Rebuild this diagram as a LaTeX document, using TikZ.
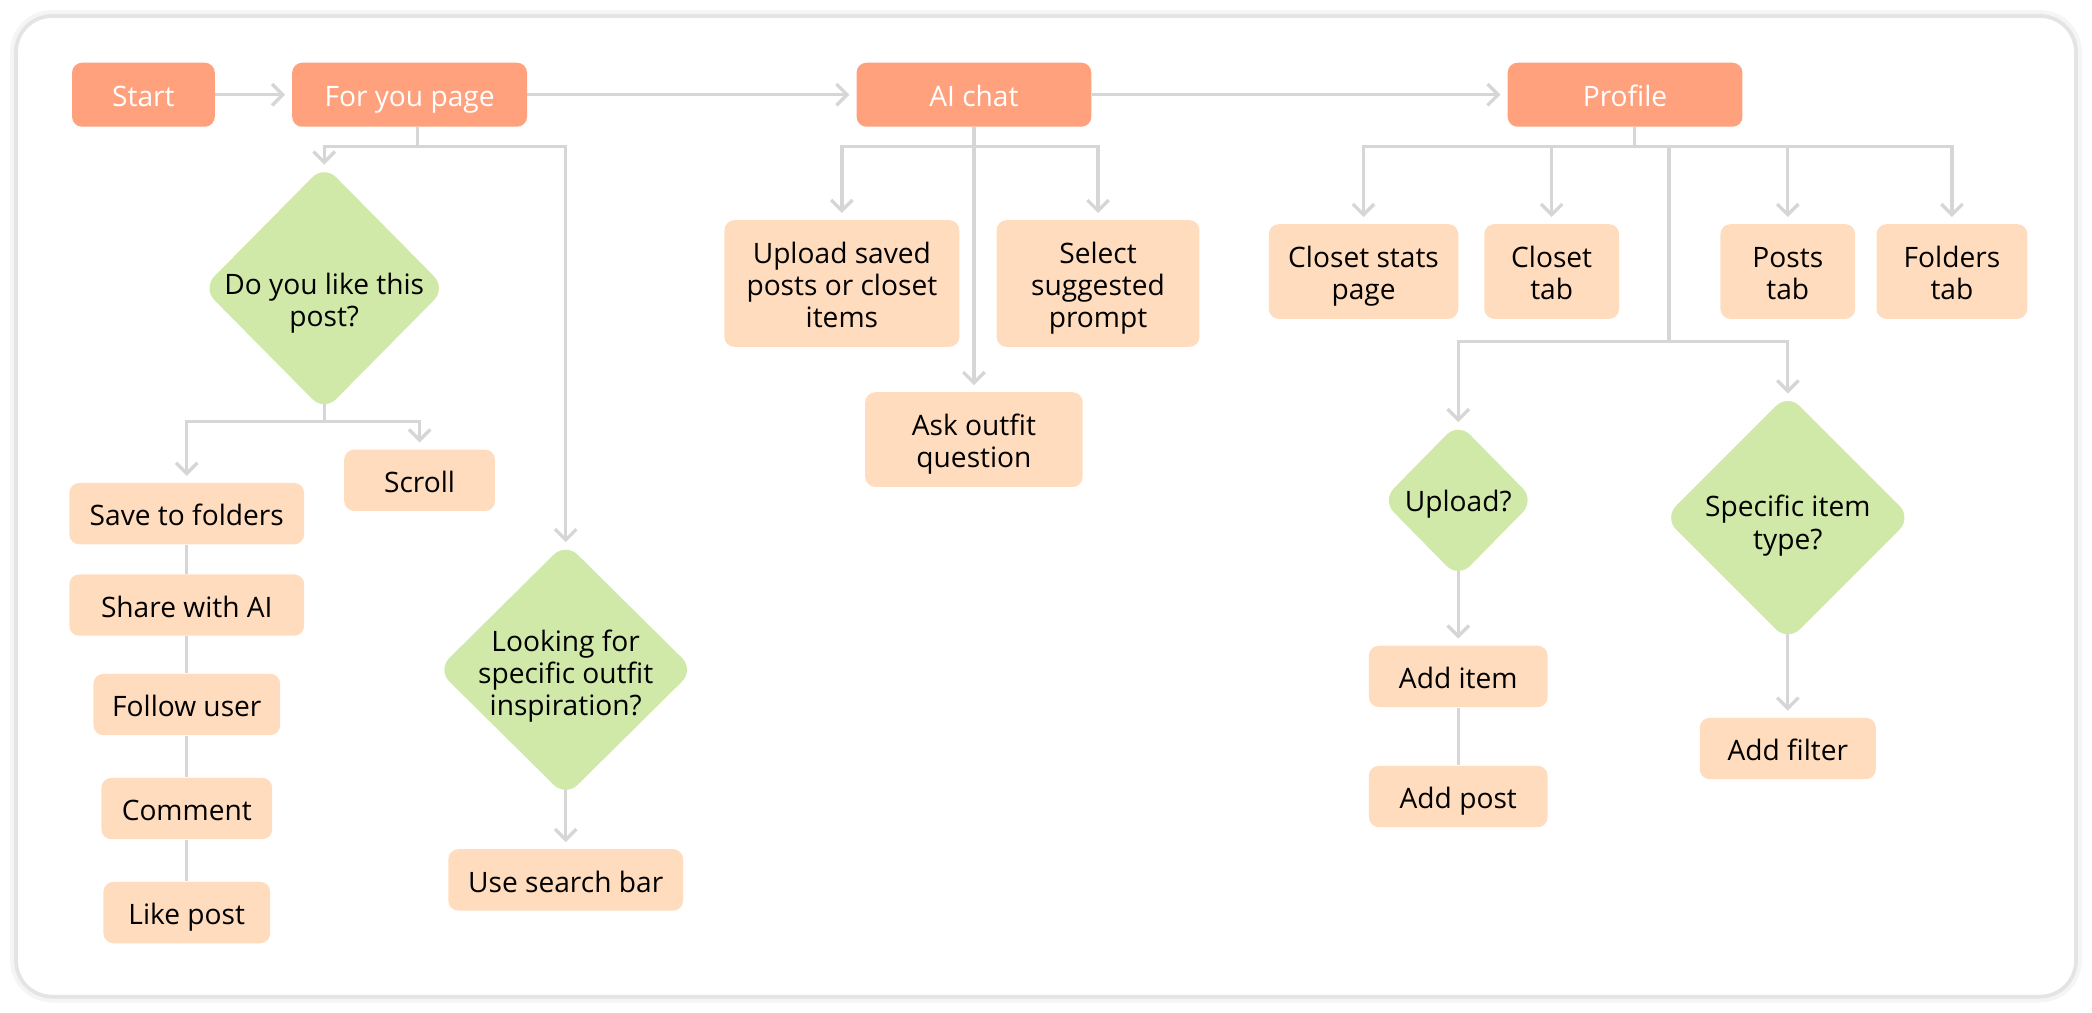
\documentclass[tikz,border=0pt]{standalone}
\usepackage{fontspec}
\setmainfont{Open Sans}
\usetikzlibrary{arrows.meta,shapes.geometric,calc}
\definecolor{salmon}{HTML}{FFA17D}
\definecolor{peach}{HTML}{FFDCBD}
\definecolor{leaf}{HTML}{D0E9A9}
\definecolor{wire}{HTML}{D6D6D6}
\definecolor{rim}{HTML}{E4E4E4}
\begin{document}
\begin{tikzpicture}[x=0.2mm,y=-0.2mm,every node/.style={font=\fontsize{12}{13.7}\selectfont},
 b/.style={fill=peach,rounded corners=1.5mm,minimum height=9.2mm,inner sep=0pt,align=center,text height=11.8pt,text depth=1.4pt},
 two/.style={minimum height=14.2mm,text height=25.5pt},
 three/.style={minimum height=19mm,text height=39.2pt},
 hdr/.style={b,fill=salmon,text=white,minimum width=35.2mm,minimum height=9.6mm},
 q/.style={diamond,fill=leaf,rounded corners=2.5mm,inner sep=0pt},
 ln/.style={draw=wire,line width=1.4pt},
 arr/.style={ln,-{Straight Barb[length=1.6mm,width=3.2mm]},shorten >=1mm}]
\useasboundingbox (0,0) rectangle (1568,759);
\draw[black!4,line width=5pt,rounded corners=5.4mm] (12,12) rectangle (1556,747);
\draw[rim,line width=1.6pt,fill=white,rounded corners=5.4mm] (12,12) rectangle (1556,747);
% top row
\node[hdr,minimum width=21.4mm] (start) at (107.5,71) {Start};
\node[hdr] (fyp) at (307,71) {For you page};
\node[hdr] (ai) at (730,71) {AI chat};
\node[hdr] (prof) at (1218,71) {Profile};
% for you page
\node[q,minimum width=36.5mm,minimum height=36.9mm,label={[align=center,yshift=-2.2mm]center:Do you like this\\post?}] (like) at (243,216) {};
\node[b,minimum width=22.6mm] (scroll) at (314.5,360) {Scroll};
\node[b,minimum width=35.2mm] (save) at (140,385) {Save to folders};
\node[b,minimum width=35.2mm] (share) at (140,453.5) {Share with AI};
\node[b,minimum width=28mm] (follow) at (140,528) {Follow user};
\node[b,minimum width=25.6mm] (comment) at (140,606) {Comment};
\node[b,minimum width=25mm] (likep) at (140,684) {Like post};
\node[q,minimum width=38.5mm,minimum height=38.1mm,label={[align=center,yshift=-1mm]center:Looking for\\specific outfit\\inspiration?}] (look) at (424,502) {};
\node[b,minimum width=35.2mm] (usb) at (424,659.5) {Use search bar};
% ai chat
\node[b,three,minimum width=35.2mm] (upl) at (631,212.5) {Upload saved\\posts or closet\\items};
\node[b,three,minimum width=30.4mm] (sel) at (823,212.5) {Select\\suggested\\prompt};
\node[b,two,minimum width=32.6mm] (ask) at (730,329.5) {Ask outfit\\question};
% profile
\node[b,two,minimum width=28.4mm] (cs) at (1022,203.5) {Closet stats\\page};
\node[b,two,minimum width=20.2mm] (ct) at (1163,203.5) {Closet\\tab};
\node[b,two,minimum width=20.2mm] (pt) at (1340,203.5) {Posts\\tab};
\node[b,two,minimum width=22.6mm] (ft) at (1463,203.5) {Folders\\tab};
\node[q,minimum width=22.9mm,minimum height=23.3mm,label={[yshift=-0.6mm]center:Upload?}] (upq) at (1093,375) {};
\node[q,minimum width=37.1mm,minimum height=37.1mm,label={[align=center,yshift=-1.2mm]center:Specific item\\type?}] (spq) at (1340,388) {};
\node[b,minimum width=26.8mm] (addi) at (1093,507) {Add item};
\node[b,minimum width=26.8mm] (addp) at (1093,597) {Add post};
\node[b,minimum width=26.4mm] (addf) at (1340,561) {Add filter};
% connectors
\draw[arr](start)--(fyp);\draw[arr](fyp)--(ai);\draw[arr](ai)--(prof);
\coordinate (j1) at (313,110);
\draw[ln](fyp.south-|j1)--(j1);
\draw[arr,shorten >=0pt](j1)-|(like);\draw[arr,shorten >=0pt](j1)-|(look);
\coordinate (j2) at (243,316);
\draw[ln,shorten <=-1.2mm](like)--(j2);
\draw[arr](j2)-|(save);\draw[arr](j2)-|(scroll);
\draw[ln](save)--(share);\draw[ln](share)--(follow);\draw[ln](follow)--(comment);\draw[ln](comment)--(likep);
\draw[arr,shorten <=-1.2mm](look)--(usb);
\coordinate (j3) at (730,110);
\draw[arr](ai)--(ask);
\draw[arr](j3)-|(upl);\draw[arr](j3)-|(sel);
\coordinate (j4) at (1225,110);
\draw[ln](prof.south-|j4)--(j4);
\foreach \n in {cs,ct,pt,ft} \draw[arr](j4)-|(\n);
\coordinate (j5) at (1251,256);
\draw[ln](j5|-j4)--(j5);
\draw[arr,shorten >=0pt](j5)-|(upq);\draw[arr,shorten >=0pt](j5)-|(spq);
\draw[arr,shorten <=-1.2mm](upq)--(addi);
\draw[ln](addi)--(addp);
\draw[arr,shorten <=-1.2mm](spq)--(addf);
\end{tikzpicture}
\end{document}
